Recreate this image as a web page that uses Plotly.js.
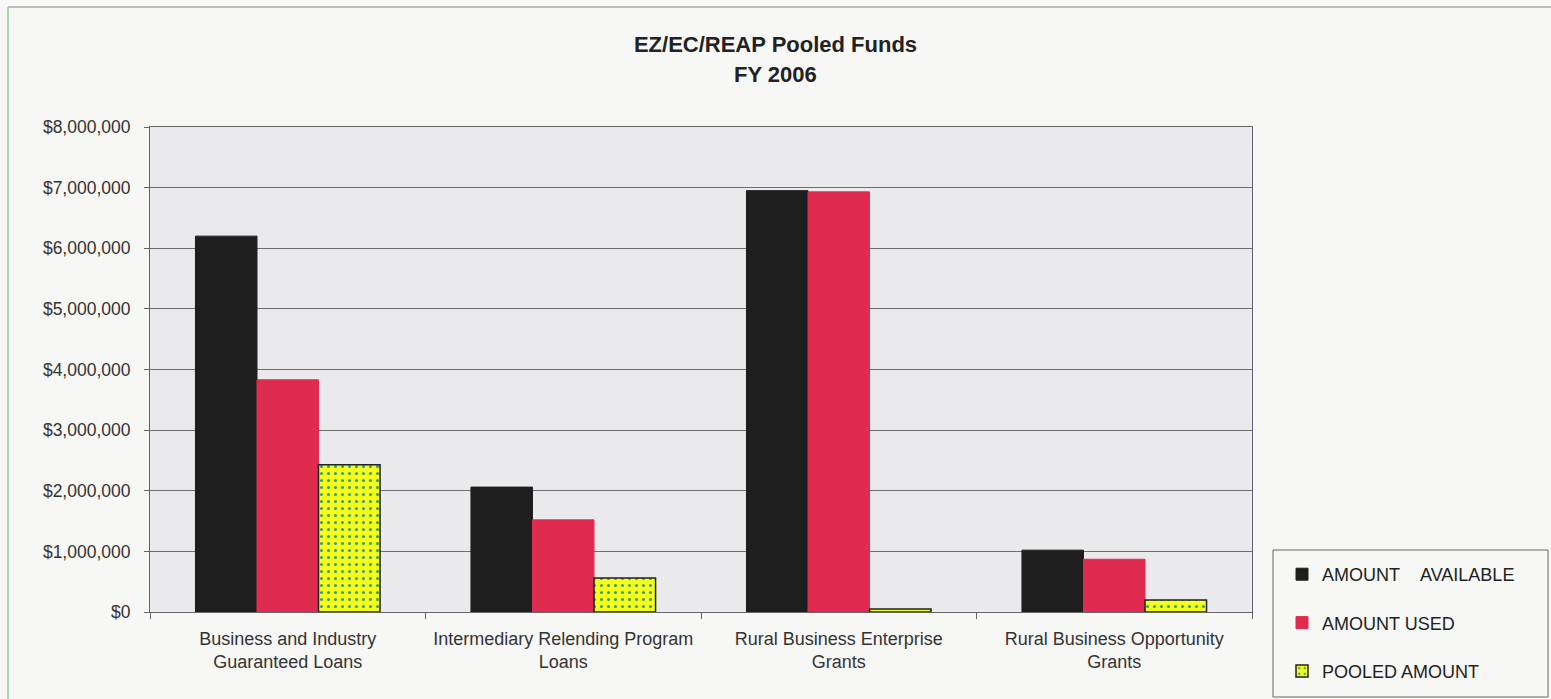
<!DOCTYPE html>
<html><head><meta charset="utf-8">
<script src="https://cdn.plot.ly/plotly-3.0.1.min.js"></script>
<style>html,body{margin:0;padding:0;background:#f7f7f5;}#chart{width:1551px;height:699px;}</style>
</head><body><div id="chart"></div>
<script>
const categories = ["Business and Industry<br>Guaranteed Loans", "Intermediary Relending Program<br>Loans", "Rural Business Enterprise<br>Grants", "Rural Business Opportunity<br>Grants"];
const amountAvailable = [6200000, 2060000, 6950000, 1020000];
const amountUsed = [3830000, 1520000, 6930000, 870000];
const pooledAmount = [2430000, 560000, 50000, 200000];
const seriesNames = ["AMOUNT&nbsp;&nbsp;&nbsp;&nbsp;AVAILABLE", "AMOUNT USED", "POOLED AMOUNT"];
const titleLines = ["EZ/EC/REAP Pooled Funds", "FY 2006"];
const yTickVals = [0,1000000,2000000,3000000,4000000,5000000,6000000,7000000,8000000];
const yTickText = ["$0","$1,000,000","$2,000,000","$3,000,000","$4,000,000","$5,000,000","$6,000,000","$7,000,000","$8,000,000"];

const traces = [
  {type:'bar', x:categories, y:amountAvailable, name:seriesNames[0], legendgroup:'a',
   marker:{color:'#1e1e1e', line:{color:'#1e1e1e', width:1}}},
  {type:'bar', x:categories, y:amountUsed, name:seriesNames[1], legendgroup:'b',
   marker:{color:'#e02b50', line:{color:'#e02b50', width:1}}},
  {type:'bar', x:categories, y:pooledAmount, name:seriesNames[2], legendgroup:'c',
   marker:{color:'#f4ff1a', line:{color:'#222', width:1.5},
           pattern:{shape:'.', fgcolor:'#3a9a78', bgcolor:'#f4ff1a', size:7, solidity:0.15}}}
];

const layout = {
  width:1551, height:699,
  paper_bgcolor:'#f7f7f5', plot_bgcolor:'#eaeaec',
  margin:{l:150, r:299, t:127, b:87, autoexpand:false},
  font:{family:'"Liberation Sans", Arial, sans-serif', color:'#222'},
  title:{text:'<b>' + titleLines[0] + '</b>', x:0.5, xref:'container', xanchor:'center',
         y:1-44/699, yref:'container', yanchor:'middle',
         font:{size:22, color:'#222'}},
  annotations:[
    {text:'<b>' + titleLines[1] + '</b>', xref:'paper', yref:'paper', x:(775.5-150)/1102, y:(612-75)/485,
     xanchor:'center', yanchor:'middle', showarrow:false, font:{size:22, color:'#222'}}
  ],
  barmode:'group', bargap:0.33, bargroupgap:0,
  showlegend:true,
  legend:{x:(1282-150)/1102, xanchor:'left', y:(612-556)/485, yanchor:'top', borderwidth:0,
          bgcolor:'rgba(0,0,0,0)', font:{size:18, color:'#222'}, traceorder:'grouped', tracegroupgap:22,
          itemwidth:30},
  shapes:[
    {type:'rect', xref:'paper', yref:'paper', x0:(1273-150)/1102, x1:(1548-150)/1102,
     y0:(612-697)/485, y1:(612-550)/485, line:{color:'#666', width:1}, fillcolor:'rgba(0,0,0,0)'},
    {type:'line', xref:'paper', yref:'paper', x0:(8-150)/1102, x1:(1551-150)/1102,
     y0:(612-7)/485, y1:(612-7)/485, line:{color:'#aaa', width:1.5}},
    {type:'line', xref:'paper', yref:'paper', x0:(8-150)/1102, x1:(8-150)/1102,
     y0:(612-7)/485, y1:(612-699)/485, line:{color:'#8fcf8f', width:1.5}}
  ],
  xaxis:{type:'category', showline:true, linecolor:'#666', linewidth:1, mirror:true, automargin:false,
         ticks:'outside', ticklen:6, tickcolor:'#666', tickson:'boundaries', ticklabelstandoff:10,
         tickfont:{size:18, color:'#333'}, showgrid:false},
  yaxis:{range:[0,8000000], tickvals:yTickVals, ticktext:yTickText, showline:true, linecolor:'#6a5a80', mirror:true,
         automargin:false,
         ticks:'outside', ticklen:5, tickcolor:'#666', gridcolor:'#6e6e6e', gridwidth:1, ticklabelstandoff:10,
         tickfont:{size:17.5, color:'#333'}, zeroline:false}
};
Plotly.newPlot('chart', traces, layout, {displayModeBar:false});
</script></body></html>
